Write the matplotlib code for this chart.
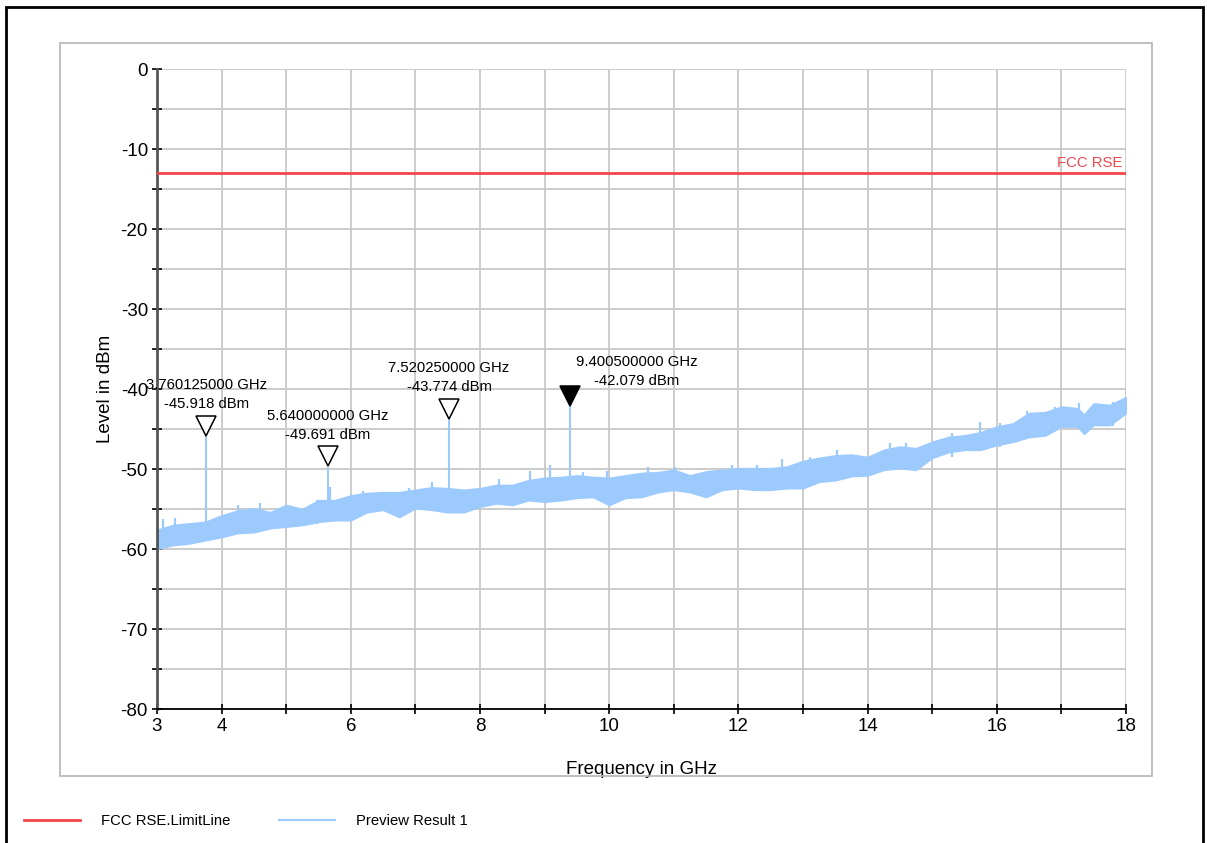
import matplotlib
matplotlib.use("Agg")
import matplotlib.pyplot as plt
from matplotlib.transforms import offset_copy
from matplotlib.patches import Rectangle

plt.rcParams['font.family'] = ['Liberation Sans', 'DejaVu Sans']

freq_env = [3.0, 3.25, 3.5, 3.75, 4.0, 4.25, 4.5, 4.75, 5.0, 5.25, 5.5, 5.75,
            6.0, 6.25, 6.5, 6.75, 7.0, 7.25, 7.5, 7.75, 8.0, 8.25, 8.5, 8.75,
            9.0, 9.25, 9.5, 9.75, 10.0, 10.25, 10.5, 10.75, 11.0, 11.25, 11.5,
            11.75, 12.0, 12.25, 12.5, 12.75, 13.0, 13.25, 13.5, 13.75, 14.0,
            14.25, 14.5, 14.75, 15.0, 15.25, 15.5, 15.75, 16.0, 16.25, 16.5,
            16.75, 17.0, 17.25, 17.35, 17.5, 17.75, 18.0]
upper_env = [-57.6, -57.0, -56.8, -56.6, -55.8, -55.2, -54.9, -55.4, -54.5,
             -55.0, -53.9, -53.9, -53.3, -53.0, -52.9, -52.9, -52.6, -52.3,
             -52.4, -52.6, -52.4, -52.0, -52.0, -51.4, -51.1, -51.0, -50.8,
             -51.0, -51.1, -50.8, -50.5, -50.4, -50.1, -50.8, -50.3, -50.1,
             -49.9, -49.9, -49.9, -49.7, -49.0, -48.6, -48.3, -48.2, -48.5,
             -47.6, -47.2, -47.4, -46.6, -46.0, -45.8, -45.4, -44.7, -44.3,
             -43.0, -42.9, -42.2, -42.4, -43.2, -41.8, -42.0, -41.0]
lower_env = [-60.0, -59.5, -59.3, -58.9, -58.5, -58.0, -57.9, -57.4, -57.2,
             -57.0, -56.6, -56.4, -56.4, -55.4, -55.1, -56.0, -54.9, -55.1,
             -55.4, -55.4, -54.7, -54.3, -54.5, -53.9, -54.1, -53.9, -53.6,
             -53.5, -54.5, -53.6, -53.5, -52.9, -52.6, -52.9, -53.5, -52.6,
             -52.4, -52.6, -52.6, -52.4, -52.4, -51.6, -51.4, -50.9, -50.8,
             -50.1, -49.9, -50.1, -48.6, -47.9, -47.6, -47.6, -47.0, -46.6,
             -46.0, -45.8, -44.7, -44.7, -45.6, -44.5, -44.5, -43.0]

# Small noise spikes above the band
spike_f = [3.1, 3.28, 4.25, 4.6, 5.47, 5.68, 6.19, 6.9, 7.26, 8.3, 8.77,
           9.09, 9.6, 9.97, 10.6, 11.02, 11.9, 12.29, 12.67, 13.11, 13.53,
           14.35, 14.6, 15.3, 15.74, 16.05, 16.47, 16.9, 17.27, 17.8]
spike_lvl = [-56.2, -56.1, -54.5, -54.3, -53.9, -52.2, -52.8, -52.4, -51.6,
             -51.3, -50.3, -49.5, -50.4, -50.3, -49.8, -49.7, -49.5, -49.5,
             -48.8, -48.5, -47.6, -46.8, -46.7, -45.5, -44.1, -44.3, -42.7,
             -42.3, -41.7, -41.6]

# Marker peaks
mk_freq = [3.760125, 5.640000, 7.520250, 9.400500]
mk_lvl = [-45.918, -49.691, -43.774, -42.079]
mk_base = [-57.5, -55.0, -54.5, -53.0]

limit_lvl = -13.0
x_ticks = list(range(3, 19))
x_labels = ['3', '4', '', '6', '', '8', '', '10', '', '12', '', '14', '', '16', '', '18']
y_ticks = list(range(-80, 1, 5))
y_labels = [str(v) if v % 10 == 0 else '' for v in y_ticks]

trace_c = '#9dcafc'
red_c = '#f0474d'

fig = plt.figure(figsize=(12.07, 8.43), dpi=100)
ax = fig.add_axes([157 / 1207, 1 - 709 / 843, (1126 - 157) / 1207, (709 - 69) / 843])

# outer frames
fig.add_artist(Rectangle((60 / 1207, 1 - 776 / 843), (1152 - 60) / 1207, (776 - 43) / 843,
                         transform=fig.transFigure, fill=False, ec='#b4b4b4', lw=1.2))
fig.add_artist(Rectangle((6 / 1207, -0.05), (1203 - 6) / 1207, 1.05 - 7 / 843,
                         transform=fig.transFigure, fill=False, ec='black', lw=2))

# limit line
limit_line, = ax.plot([3, 18], [limit_lvl, limit_lvl], color=red_c, lw=2,
                      label='FCC RSE.LimitLine', zorder=3)
ax.text(17.94, limit_lvl + 0.4, 'FCC RSE', color=red_c, fontsize=10.7,
        ha='right', va='bottom')

# trace
ax.fill_between(freq_env, lower_env, upper_env, color=trace_c, lw=1.2,
                edgecolor=trace_c, zorder=2)
ax.vlines(spike_f, [s - 3 for s in spike_lvl], spike_lvl, color=trace_c, lw=1.6, zorder=2)
ax.vlines(mk_freq, mk_base, mk_lvl, color=trace_c, lw=1.5, zorder=2)
trace_handle, = ax.plot([], [], color=trace_c, lw=1.5, label='Preview Result 1')

# markers
ms = 14.5
tr = offset_copy(ax.transData, fig=fig, x=0, y=ms / 2, units='points')
for i, (f, lv) in enumerate(zip(mk_freq, mk_lvl)):
    last = i == len(mk_freq) - 1
    ax.plot(f, lv, marker='v', ms=ms, mfc='black' if last else 'white',
            mec='black', mew=1.1, transform=tr, zorder=5)
    txt = f'{f:.9f} GHz\n{lv:.3f} dBm'
    if last:
        ax.annotate(txt, (f, lv), xytext=(4, 13), textcoords='offset points',
                    ha='left', va='bottom', fontsize=10.7, multialignment='center',
                    linespacing=1.45)
    else:
        ax.annotate(txt, (f, lv), xytext=(0, 18), textcoords='offset points',
                    ha='center', va='bottom', fontsize=10.7, multialignment='center',
                    linespacing=1.45)

ax.set_xlim(3, 18)
ax.set_ylim(-80, 0)
ax.set_xticks(x_ticks)
ax.set_xticklabels(x_labels)
ax.set_yticks(y_ticks)
ax.set_yticklabels(y_labels)
ax.grid(True, color='#cccccc', lw=1.4, zorder=0)
ax.set_axisbelow(True)
for s in ['top', 'right']:
    ax.spines[s].set_visible(False)
ax.spines['left'].set_color('#555555')
ax.spines['left'].set_linewidth(2)
ax.spines['bottom'].set_color('black')
ax.spines['bottom'].set_linewidth(1.3)
ax.tick_params(direction='inout', length=7, width=1.2, labelsize=13.5, colors='black', pad=3)
ax.set_xlabel('Frequency in GHz', fontsize=13.5, labelpad=19)
ax.set_ylabel('Level in dBm', fontsize=13.5, labelpad=5)

fig.legend(handles=[limit_line, trace_handle], loc='center left',
           bbox_to_anchor=(11 / 1207, 1 - 821 / 843), ncol=2, frameon=False,
           fontsize=10.7, handlelength=3.75, handletextpad=1.4, columnspacing=3.3)

fig.savefig('out.png', dpi=100)
